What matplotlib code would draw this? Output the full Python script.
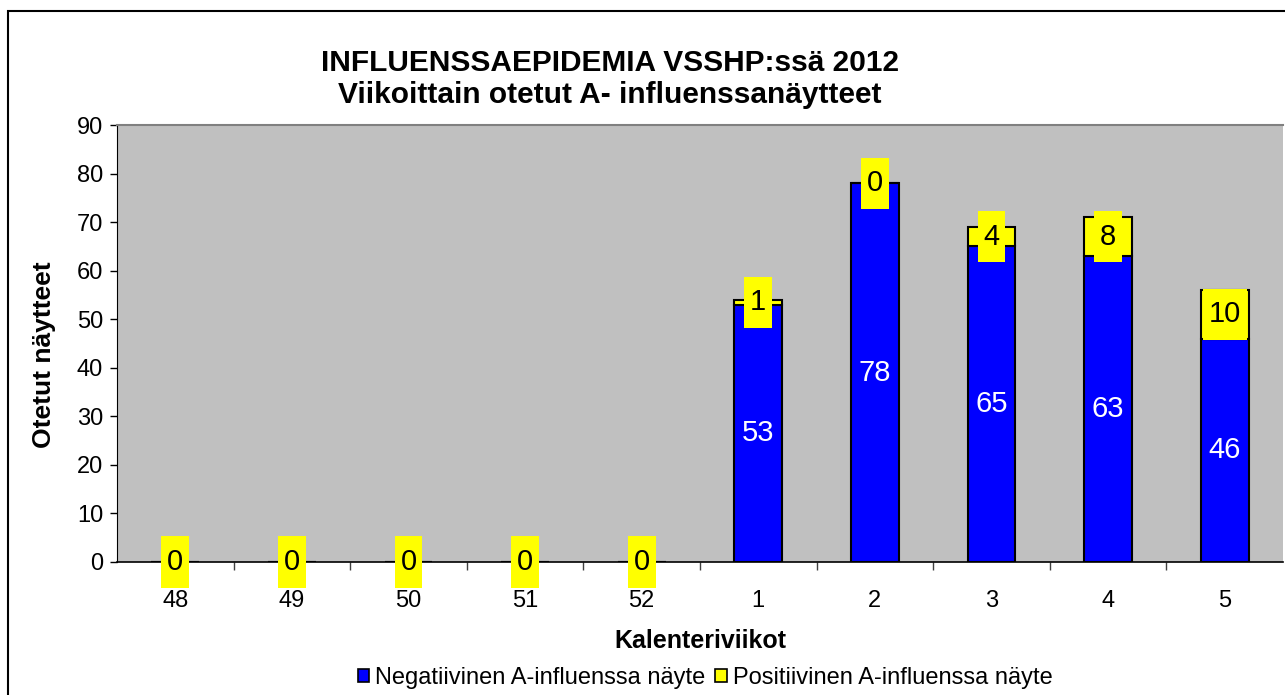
import numpy as np
import matplotlib
matplotlib.use("Agg")
import matplotlib.pyplot as plt
from matplotlib.path import Path
from matplotlib.patches import Patch, Rectangle

plt.rcParams['font.family'] = ['Liberation Sans', 'DejaVu Sans']

# Data
weeks = ['48', '49', '50', '51', '52', '1', '2', '3', '4', '5']
negatiivinen = [0, 0, 0, 0, 0, 53, 78, 65, 63, 46]
positiivinen = [0, 0, 0, 0, 0, 1, 0, 4, 8, 10]

title1 = 'INFLUENSSAEPIDEMIA VSSHP:ssä 2012'
title2 = 'Viikoittain otetut A- influenssanäytteet'
ylabel = 'Otetut näytteet'
xlabel = 'Kalenteriviikot'
legend_labels = ['Negatiivinen A-influenssa näyte', 'Positiivinen A-influenssa näyte']

BLUE = '#0000FF'
YELLOW = '#FFFF00'
W, H = 1285, 695


def label_box(x0, y0, width, height, mutation_size):
    # tall box like the Excel data label background
    px = 0.2 * mutation_size
    py = 0.4 * mutation_size
    return Path([(x0 - px, y0 - py), (x0 + width + px, y0 - py),
                 (x0 + width + px, y0 + height + py), (x0 - px, y0 + height + py),
                 (x0 - px, y0 - py)], closed=True)


fig = plt.figure(figsize=(W / 100, H / 100), dpi=100)
ax = fig.add_axes([117 / W, 133 / H, 1166 / W, 437 / H])
ax.set_facecolor('#C0C0C0')

x = np.arange(len(weeks))
neg = np.array(negatiivinen)
pos = np.array(positiivinen)

ax.bar(x, neg, width=0.41, color=BLUE, edgecolor='black', linewidth=1.5, zorder=2)
ax.bar(x, pos, bottom=neg, width=0.41, color=YELLOW, edgecolor='black', linewidth=1.5, zorder=2)

# labels
for i in range(len(weeks)):
    if neg[i] > 0:
        ax.text(x[i], neg[i] / 2, str(neg[i]), ha='center', va='center',
                color='white', fontsize=21, zorder=4)
    ax.text(x[i], neg[i] + pos[i] / 2, str(pos[i]), ha='center', va='center',
            color='black', fontsize=21, zorder=5, clip_on=False,
            bbox=dict(boxstyle=label_box, facecolor=YELLOW, edgecolor='none'))

ax.set_xlim(-0.5, len(weeks) - 0.5)
ax.set_ylim(0, 90)
ax.set_yticks(np.arange(0, 91, 10))
ax.set_xticks(x)
ax.set_xticklabels(weeks)
ax.set_xticks(np.arange(0.5, len(weeks) - 0.5, 1), minor=True)
ax.tick_params(axis='x', which='major', length=0, pad=20.5, labelsize=17)
ax.tick_params(axis='x', which='minor', length=6, width=1, color='#404040')
ax.tick_params(axis='y', length=5, width=1, pad=5, labelsize=17)

ax.spines['left'].set_color('black')
ax.spines['bottom'].set_color('black')
ax.spines['bottom'].set_linewidth(1.2)
ax.spines['top'].set_color('#808080')
ax.spines['top'].set_linewidth(1.5)
ax.spines['right'].set_visible(False)

# titles and axis labels
fig.text(610 / W, 1 - 71 / H, title1, ha='center', va='baseline',
         fontsize=21.5, fontweight='bold')
fig.text(610 / W, 1 - 103 / H, title2, ha='center', va='baseline',
         fontsize=21.5, fontweight='bold')
fig.text(44 / W, 1 - 355 / H, ylabel, ha='center', va='center', rotation=90,
         fontsize=19, fontweight='bold')
fig.text(700 / W, 1 - 648 / H, xlabel, ha='center', va='baseline',
         fontsize=18, fontweight='bold')

handles = [Patch(facecolor=BLUE, edgecolor='black', linewidth=1.2),
           Patch(facecolor=YELLOW, edgecolor='black', linewidth=1.2)]
fig.legend(handles, legend_labels, loc='center', bbox_to_anchor=(705 / W, 1 - 678 / H),
           ncol=2, frameon=False, fontsize=17, handlelength=0.5, handleheight=0.5,
           handletextpad=0.25, columnspacing=0.4, borderaxespad=0)

# chart border
fig.patches.append(Rectangle((8 / W, -0.1), 1.2, 1.1 - 11 / H, transform=fig.transFigure,
                             fill=False, edgecolor='black', linewidth=1.5))

fig.savefig('out.png', dpi=100)
